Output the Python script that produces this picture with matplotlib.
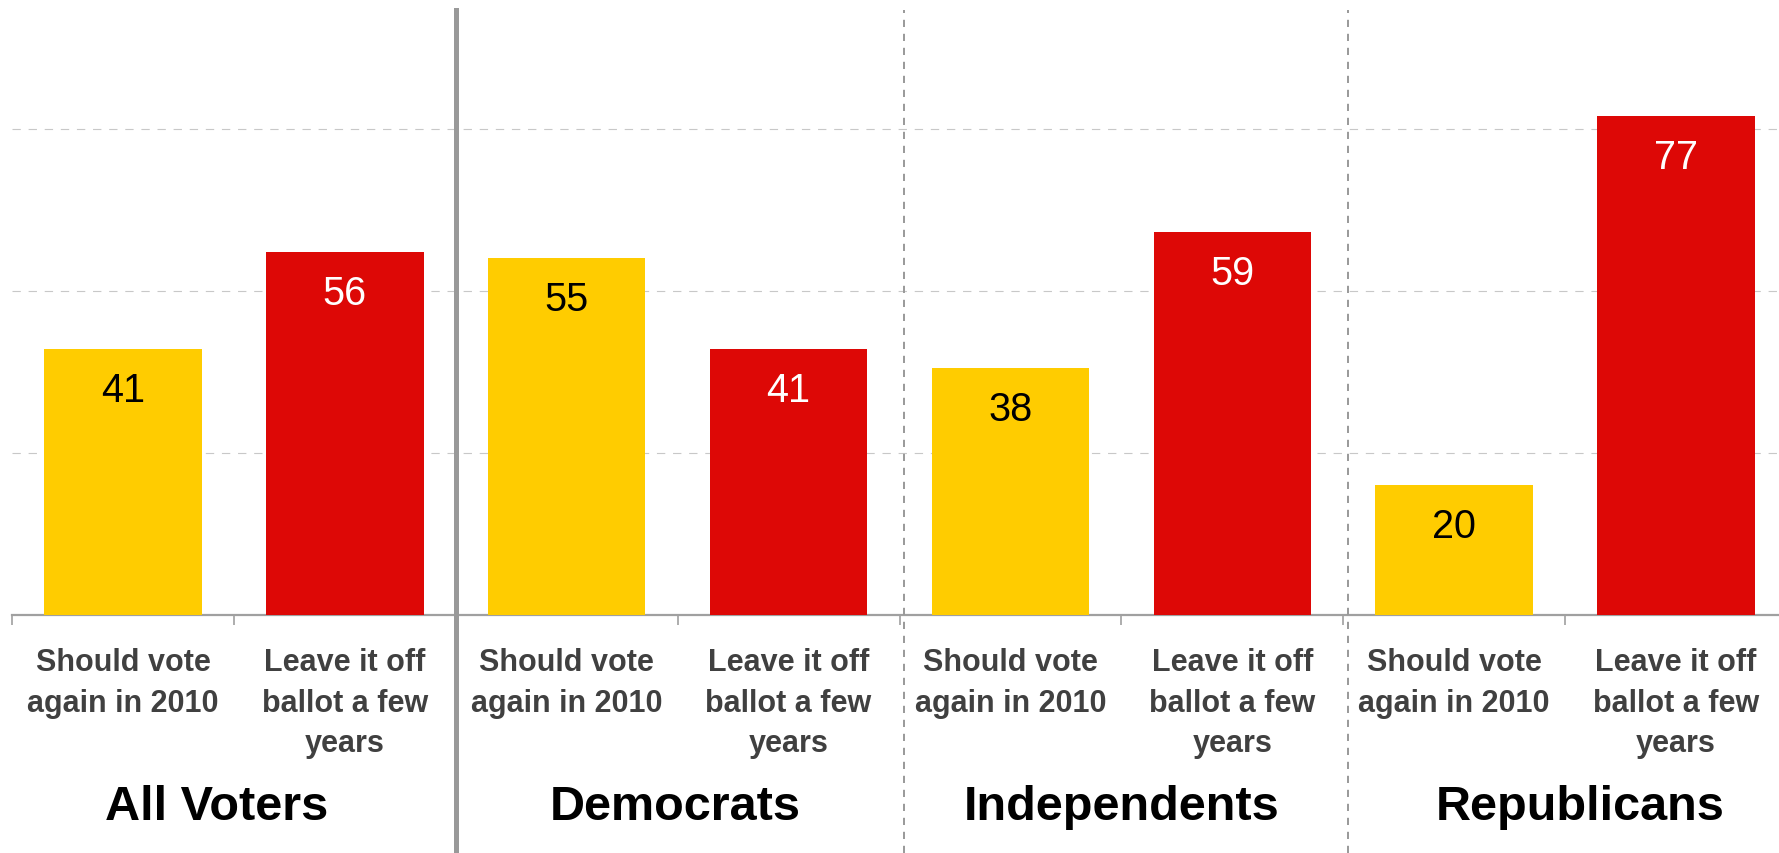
import matplotlib
matplotlib.use("Agg")
import matplotlib.pyplot as plt
import matplotlib.transforms as mtransforms
from matplotlib.lines import Line2D
import numpy as np

plt.rcParams["font.family"] = ["Liberation Sans", "DejaVu Sans"]

groups = ["All Voters", "Democrats", "Independents", "Republicans"]
answers = ["Should vote\nagain in 2010", "Leave it off\nballot a few\nyears"]
should_vote = [41, 55, 38, 20]
leave_off = [56, 41, 59, 77]
grid_ticks = [25, 50, 75]

yellow = "#FFCC00"
red = "#DD0806"

fig = plt.figure(figsize=(17.79, 8.54), dpi=100)
# axes extends a little past the right edge, like the original
ax = fig.add_axes([12 / 1779, (854 - 615.7) / 854, 1775 / 1779, 583.2 / 854])

values = []
colors = []
labels = []
for sv, lo in zip(should_vote, leave_off):
    values += [sv, lo]
    colors += [yellow, red]
    labels += answers
x = np.arange(len(values))

ax.bar(x, values, width=0.71, color=colors, zorder=3)
ax.set_xlim(-0.5, len(values) - 0.5)
ax.set_ylim(0, 90)

# value labels inside the bars
for xi, v, c in zip(x, values, colors):
    ax.annotate(str(v), (xi, v), xytext=(0, -29.5), textcoords="offset points",
                ha="center", va="center", fontsize=28.5,
                color="black" if c == yellow else "white", zorder=4)

# category labels under each bar
for xi, lab in zip(x, labels):
    ax.annotate(lab, (xi, 0), xytext=(0, -23.5), textcoords="offset points",
                ha="center", va="top", fontsize=22, fontweight="bold",
                color="#404040", linespacing=1.45, annotation_clip=False)

# group names
group_x = [0.42, 2.49, 4.5, 6.57]
for gx, g in zip(group_x, groups):
    ax.annotate(g, (gx, 0), xytext=(0, -147), textcoords="offset points",
                ha="center", va="baseline", fontsize=35, fontweight="bold",
                color="black", annotation_clip=False)

# grid and axis
ax.set_yticks(grid_ticks)
ax.yaxis.grid(True, color="#C8C8C8", linewidth=0.8, linestyle=(0, (7.5, 7)))
ax.tick_params(axis="y", left=False, labelleft=False)
ax.set_xticks(np.arange(len(values) + 1) - 0.5)
ax.tick_params(axis="x", labelbottom=False, direction="out", length=7.5,
               width=1.2, color="#A0A0A0")
for s in ["top", "right", "left"]:
    ax.spines[s].set_visible(False)
ax.spines["bottom"].set_color("#A0A0A0")
ax.spines["bottom"].set_linewidth(1.6)

# separators between groups
trans = mtransforms.blended_transform_factory(ax.transData, fig.transFigure)
top = (854 - 11) / 854
fig.add_artist(Line2D([1.5, 1.5], [0, top], transform=trans,
                      color="#999999", linewidth=3.6))
for bx in [3.52, 5.52]:
    fig.add_artist(Line2D([bx, bx], [0, top], transform=trans,
                          color="#999999", linewidth=1.4,
                          linestyle=(0, (3.7, 3.5))))

fig.savefig("out.png", dpi=100)
